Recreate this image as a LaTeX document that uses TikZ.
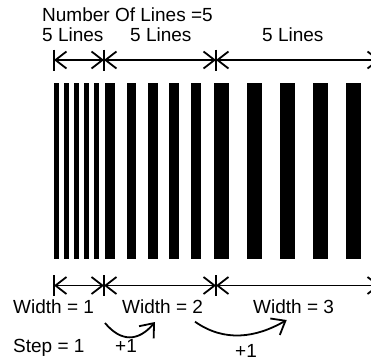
\documentclass[tikz,border=0pt]{standalone}
\usepackage{fontspec}
\setmainfont{Liberation Sans}
\usetikzlibrary{arrows.meta}

\begin{document}
\begin{tikzpicture}[x=1pt, y=1pt,
    lbl/.style={anchor=base west, inner sep=0pt, font=\fontsize{19}{22}\selectfont},
    dimline/.style={line width=1.8pt, arrows={Straight Barb[length=11pt,width=17pt]-Straight Barb[length=11pt,width=17pt]}},
    tickline/.style={line width=1.8pt},
    steparrow/.style={line width=1.8pt, -{Straight Barb[length=12pt,width=19pt]}}]
    \useasboundingbox (0,0) rectangle (371,-360);
    \clip (0,0) rectangle (371,-360);

    % Beschriftung oben
    \node[lbl] (title) at (42,-21) {Number Of Lines =5};
    \node[lbl] (n1) at (42,-41.7) {5 Lines};
    \node[lbl] (n2) at (130,-41.7) {5 Lines};
    \node[lbl] (n3) at (262,-41.7) {5 Lines};

    % Bemassung oben
    \coordinate (t0) at (54,-60);
    \coordinate (t1) at (104,-60);
    \coordinate (t2) at (216,-60);
    \coordinate (t3) at (380,-60);
    \draw[dimline] (t0) -- (t1);
    \draw[dimline] (t1) -- (t2);
    \draw[dimline] (t2) -- (t3);
    \draw[tickline] ([yshift=10.5pt]t0) -- ([yshift=-10.5pt]t0);
    \draw[tickline] ([yshift=10.5pt]t1) -- ([yshift=-10.5pt]t1);
    \draw[tickline] ([yshift=10.5pt]t2) -- ([yshift=-10.5pt]t2);

    % Linien, Breite 1
    \fill (54,-83) rectangle ++(4.6,-176);
    \fill (64,-83) rectangle ++(4.6,-176);
    \fill (74,-83) rectangle ++(4.6,-176);
    \fill (84,-83) rectangle ++(4.6,-176);
    \fill (94.3,-83) rectangle ++(4.6,-176);
    % Linien, Breite 2
    \fill (105,-83) rectangle ++(9.8,-176);
    \fill (126.5,-83) rectangle ++(9.8,-176);
    \fill (148,-83) rectangle ++(9.8,-176);
    \fill (169.3,-83) rectangle ++(9.8,-176);
    \fill (190.7,-83) rectangle ++(9.8,-176);
    % Linien, Breite 3
    \fill (214,-83) rectangle ++(14.5,-176);
    \fill (247,-83) rectangle ++(14.5,-176);
    \fill (280,-83) rectangle ++(14.5,-176);
    \fill (313,-83) rectangle ++(14.5,-176);
    \fill (346,-83) rectangle ++(14.5,-176);

    % Bemassung unten
    \coordinate (b0) at (54,-285.5);
    \coordinate (b1) at (104,-285.5);
    \coordinate (b2) at (216,-285.5);
    \coordinate (b3) at (380,-285.5);
    \draw[dimline] (b0) -- (b1);
    \draw[dimline] (b1) -- (b2);
    \draw[dimline] (b2) -- (b3);
    \draw[tickline] ([yshift=10.5pt]b0) -- ([yshift=-10.5pt]b0);
    \draw[tickline] ([yshift=10.5pt]b1) -- ([yshift=-10.5pt]b1);
    \draw[tickline] ([yshift=10.5pt]b2) -- ([yshift=-10.5pt]b2);

    % Beschriftung unten
    \node[lbl] (w1) at (13,-313) {Width = 1};
    \node[lbl] (w2) at (122,-313) {Width = 2};
    \node[lbl] (w3) at (253,-313) {Width = 3};
    \node[lbl] (step) at (13,-352) {Step = 1};
    \node[lbl] (p1) at (115,-352) {+1};
    \node[lbl] (p2) at (235,-357) {+1};

    % Schrittpfeile
    \coordinate (s1a) at (105,-323);
    \coordinate (s1b) at (155,-322);
    \coordinate (s2a) at (195,-321.7);
    \coordinate (s2b) at (286.7,-320);
    \draw[steparrow] (s1a) to[out=-50, in=-130, looseness=1.3] (s1b);
    \draw[steparrow] (s2a) to[out=-35, in=-150] (s2b);
\end{tikzpicture}
\end{document}
